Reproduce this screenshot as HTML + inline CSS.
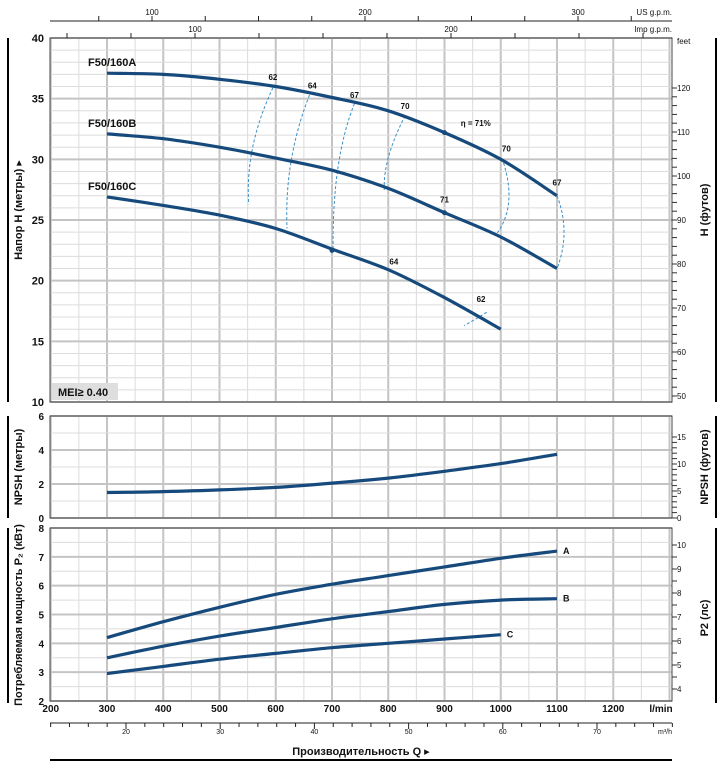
<!DOCTYPE html>
<html><head><meta charset="utf-8"><style>
body{margin:0;background:#fff;}
svg{display:block;font-family:"Liberation Sans","DejaVu Sans",sans-serif;}
</style></head><body>
<svg id="c" width="723" height="769" viewBox="0 0 723 769" xmlns="http://www.w3.org/2000/svg"></svg>
<script>
const qTicks=[200,300,400,500,600,700,800,900,1000,1100,1200];
const hTicks=[10,15,20,25,30,35,40];
const nTicks=[0,2,4,6];
const pTicks=[2,3,4,5,6,7,8];
const feetTicks=[50,60,70,80,90,100,110,120];
const npshFeetTicks=[0,5,10,15];
const hpTicks=[4,5,6,7,8,9,10];
const usTicks=[100,200,300];
const impTicks=[100,200];
const m3Ticks=[20,30,40,50,60,70];
const curveQ=[300,400,500,600,700,800,900,1000,1100];
const headA=[37.1,37.0,36.6,36.0,35.1,34.0,32.2,30.0,27.0];
const headB=[32.1,31.7,31.0,30.1,29.1,27.6,25.6,23.6,21.0];
const headC=[26.9,26.2,25.4,24.3,22.6,20.9,18.6,16.0];
const npsh=[1.5,1.55,1.65,1.8,2.05,2.35,2.75,3.2,3.75];
const powA=[4.2,4.75,5.25,5.7,6.05,6.35,6.65,6.95,7.2];
const powB=[3.5,3.9,4.25,4.55,4.85,5.1,5.35,5.5,5.55];
const powC=[2.95,3.2,3.45,3.65,3.85,4.0,4.15,4.3];
const effLines=[[[595,35.9],[545,31],[552,26.3]],[[660,35.3],[615,30],[620,24.3]],[[740,34.6],[700,30],[702,22.5]],[[830,33.6],[790,30],[793,27.4]],[[1005,29.7],[1030,26],[990,23.7]],[[1100,27],[1125,24],[1100,21]],[[975,17.4],[955,16.8],[935,16.3]]];
const effLabels=[["62",595,36.3],["64",665,35.6],["67",740,34.8],["70",830,33.9],["η = 71%",920,32.5],["70",1010,30.4],["67",1100,27.6],["71",900,26.2],["64",810,21.1],["62",965,18.0]];
const effDots=[[900,32.2],[900,25.6],[700,22.5]];

const svg=document.getElementById('c');const NS='http://www.w3.org/2000/svg';
function mk(t,a,txt){const e=document.createElementNS(NS,t);for(const k in a)e.setAttribute(k,a[k]);if(txt!==undefined)e.textContent=txt;svg.appendChild(e);return e;}
const L=50,R=672;
const X=q=>107+(q-300)*0.5625;
const YH=h=>38+(40-h)*12.133;
const YN=n=>518-n*17;
const YP=p=>701-(p-2)*28.83;
const panels=[[38,402,10,40,1,5,YH],[416,518,0,6,1,2,YN],[528,701,2,8,0.5,1,YP]];
panels.forEach(([t,b,lo,hi,minor,major,Y],pi)=>{
  for(let q=200;q<=1300;q+=50){const m=q%100===0;let l=mk('line',{x1:X(q),x2:X(q),y1:t,y2:b,stroke:m?'#c4c4c4':'#dcdcdc','stroke-width':m?2:1});}
  for(let v=lo;v<=hi+1e-9;v+=minor){const m=Math.abs(v/major-Math.round(v/major))<1e-6;let l=mk('line',{x1:L,x2:R,y1:Y(v),y2:Y(v),stroke:m?'#c4c4c4':'#dcdcdc','stroke-width':m?2:1});}
  let f=mk('rect',{x:L,y:t,width:R-L,height:b-t,fill:'none',stroke:'#444','stroke-width':1});
  
});
function txt(x,y,s,o){o=o||{};return mk('text',Object.assign({x:x,y:y,'font-size':10,fill:'#111'},o),s);}
hTicks.forEach(v=>{let e=txt(44,YH(v)+4,v,{'text-anchor':'end','font-size':11,'font-weight':'bold'});});
nTicks.forEach(v=>{let e=txt(44,YN(v)+4,v,{'text-anchor':'end','font-size':10,'font-weight':'bold'});});
pTicks.forEach(v=>{let e=txt(44,YP(v)+4,v,{'text-anchor':'end','font-size':10,'font-weight':'bold'});});
qTicks.forEach(v=>{let e=txt(X(v),712,v,{'text-anchor':'middle','font-size':10,'font-weight':'bold'});});
let ul=txt(661,712,'l/min',{'text-anchor':'middle','font-size':10,'font-weight':'bold'});
function rAxis(ticks,y0,v0,step,sub,name){ticks.forEach(v=>{const y=y0-(v-v0)*step;let e=txt(677,y+3,v,{'font-size':8});});
 const a=ticks[0],b=ticks[ticks.length-1];for(let v=a;v<=b+sub/2;v+=sub){const y=y0-(v-v0)*step;mk('line',{x1:R,x2:R+5,y1:y,y2:y,stroke:'#333','stroke-width':1});}}
rAxis(feetTicks,396,50,4.4,2,'y-tick-feet');
rAxis(npshFeetTicks,518,0,5.4,1,'y-tick-npsh-feet');
rAxis(hpTicks,689,4,24,0.5,'y-tick-hp');
let ft=txt(677,44,'feet',{'font-size':8});
mk('line',{x1:L,x2:672,y1:21,y2:21,stroke:'#222'});
for(let g=50;g<=350;g+=25){const x=152+(g-100)*2.13;if(x>=L&&x<=672)mk('line',{x1:x,x2:x,y1:16,y2:21,stroke:'#222'});}
usTicks.forEach(v=>{let e=txt(152+(v-100)*2.13,15,v,{'text-anchor':'middle','font-size':8});});
let us=txt(672,15,'US g.p.m.',{'text-anchor':'end','font-size':8});
for(let g=50;g<=300;g+=25){const x=195+(g-100)*2.56;if(x>=L&&x<=672)mk('line',{x1:x,x2:x,y1:33,y2:38,stroke:'#222'});}
impTicks.forEach(v=>{let e=txt(195+(v-100)*2.56,32,v,{'text-anchor':'middle','font-size':8});});
let im=txt(672,32,'Imp g.p.m.',{'text-anchor':'end','font-size':8});
mk('line',{x1:L,x2:672,y1:723,y2:723,stroke:'#222'});
for(let m=12;m<=82;m+=2){const x=126+(m-20)*9.42;if(x>=L-1&&x<=673)mk('line',{x1:x,x2:x,y1:723,y2:m%10===0?729:727,stroke:'#222'});}
m3Ticks.forEach(v=>{let e=txt(126+(v-20)*9.42,734,v,{'text-anchor':'middle','font-size':7});});
let m3=txt(672,734,'m³/h',{'text-anchor':'end','font-size':7});
let xt=txt(361,755,'Производительность Q ▸',{'text-anchor':'middle','font-size':11,'font-weight':'bold'});
mk('line',{x1:L,x2:672,y1:760,y2:760,stroke:'#000','stroke-width':2});
function vt(x,y,s,name){let e=txt(x,y,s,{'text-anchor':'middle','font-size':11,'font-weight':'bold',transform:`rotate(-90 ${x} ${y})`});}
vt(22,210,'Напор H (метры) ▸','y-axis-title-head');vt(22,467,'NPSH (метры)','y-axis-title-npsh');vt(22,615,'Потребляемая мощность P₂ (кВт)','y-axis-title-power');
vt(708,210,'H (футов)','y-axis-title-feet');vt(708,467,'NPSH (футов)','y-axis-title-npsh-feet');vt(708,618,'P2 (лс)','y-axis-title-hp');
[[38,402],[416,518],[528,703]].forEach(([a,b])=>{mk('line',{x1:8,x2:8,y1:a,y2:b,stroke:'#000','stroke-width':2});mk('line',{x1:716,x2:716,y1:a,y2:b,stroke:'#000','stroke-width':2});});
function smooth(pts){let d='M'+pts[0][0].toFixed(1)+','+pts[0][1].toFixed(1);for(let i=0;i<pts.length-1;i++){const p0=pts[Math.max(0,i-1)],p1=pts[i],p2=pts[i+1],p3=pts[Math.min(pts.length-1,i+2)];const c1=[p1[0]+(p2[0]-p0[0])/6,p1[1]+(p2[1]-p0[1])/6],c2=[p2[0]-(p3[0]-p1[0])/6,p2[1]-(p3[1]-p1[1])/6];d+='C'+c1[0].toFixed(1)+','+c1[1].toFixed(1)+' '+c2[0].toFixed(1)+','+c2[1].toFixed(1)+' '+p2[0].toFixed(1)+','+p2[1].toFixed(1);}return d;}
function curve(vals,Y,name){const pts=vals.map((v,i)=>[X(curveQ[i]),Y(v)]);let p=mk('path',{d:smooth(pts),fill:'none',stroke:'#174a7c','stroke-width':3.2,'stroke-linecap':'butt'});}
effLines.forEach(pts=>{const d='M'+X(pts[0][0])+','+YH(pts[0][1])+'Q'+X(pts[1][0])+','+YH(pts[1][1])+' '+X(pts[2][0])+','+YH(pts[2][1]);let p=mk('path',{d:d,fill:'none',stroke:'#3a8fc8','stroke-width':1,'stroke-dasharray':'3,2'});});
curve(headA,YH,'head-curve-a');curve(headB,YH,'head-curve-b');curve(headC,YH,'head-curve-c');
curve(npsh,YN,'npsh-curve');curve(powA,YP,'power-curve-a');curve(powB,YP,'power-curve-b');curve(powC,YP,'power-curve-c');
effDots.forEach(([q,h])=>{let c=mk('circle',{cx:X(q),cy:YH(h),r:2.5,fill:'#174a7c'});});
effLabels.forEach(([s,q,h])=>{let e=txt(X(q)+(s.length>3?5:0),YH(h)-3,s,{'font-size':8,'font-weight':'bold','text-anchor':s.length>3?'start':'middle'});});
[['F50/160A',37.1],['F50/160B',32.1],['F50/160C',26.9]].forEach(([s,h])=>{let e=txt(88,YH(h)-7,s,{'font-size':11,'font-weight':'bold'});});
[['A',powA],['B',powB],['C',powC]].forEach(([s,a])=>{let e=txt(X(curveQ[a.length-1])+6,YP(a[a.length-1])+3,s,{'font-size':9,'font-weight':'bold'});});
let mb=mk('rect',{x:52,y:383,width:66,height:17,fill:'#dedede'});
let mt=txt(58,396,'MEI≥ 0.40',{'font-size':11,'font-weight':'bold'});
</script>
</body></html>
